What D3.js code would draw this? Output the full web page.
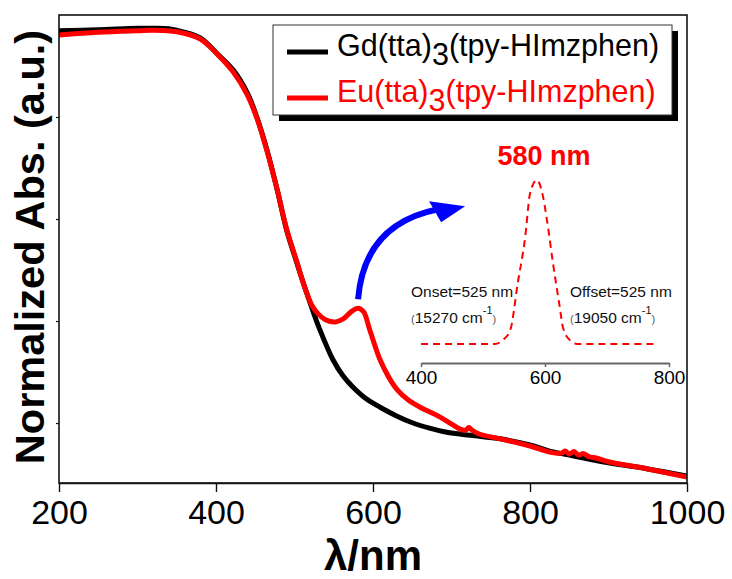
<!DOCTYPE html>
<html>
<head>
<meta charset="utf-8">
<script src="https://cdn.jsdelivr.net/npm/d3@7"></script>
<style>
  body { margin: 0; background: #fff; }
  svg { display: block; font-family: Arial, "Liberation Sans", sans-serif; }
</style>
</head>
<body>
<svg width="732" height="579"></svg>
<script>
// wavelengths (nm) and normalized absorbance
var gdWave = [200, 250, 300, 320, 340, 358, 380, 401, 422, 440, 452, 465, 478, 490, 503, 512, 522, 532, 549, 562, 574, 590, 609, 630, 651, 672, 694, 724, 762, 800, 825, 850, 900, 950, 1000];
var gdAbs  = [0.969, 0.971, 0.974, 0.974, 0.973, 0.967, 0.955, 0.925, 0.892, 0.847, 0.800, 0.735, 0.657, 0.578, 0.514, 0.471, 0.426, 0.384, 0.324, 0.292, 0.271, 0.249, 0.231, 0.214, 0.200, 0.190, 0.182, 0.176, 0.169, 0.157, 0.145, 0.137, 0.122, 0.110, 0.096];

var euWave = [200, 250, 300, 320, 350, 380, 401, 422, 440, 452, 465, 478, 490, 503, 510, 516, 522, 529, 540, 552, 562, 572, 581, 588, 596, 609, 620, 631, 645, 660, 685, 700, 711, 718, 722, 727, 736, 762, 800, 825, 840, 845, 850, 856, 862, 868, 875, 885, 900, 950, 1000];
var euAbs  = [0.961, 0.966, 0.969, 0.970, 0.967, 0.953, 0.924, 0.888, 0.843, 0.798, 0.733, 0.657, 0.580, 0.516, 0.480, 0.453, 0.431, 0.416, 0.402, 0.398, 0.404, 0.418, 0.425, 0.418, 0.382, 0.324, 0.290, 0.265, 0.245, 0.231, 0.212, 0.198, 0.188, 0.186, 0.191, 0.185, 0.178, 0.169, 0.155, 0.143, 0.141, 0.145, 0.139, 0.144, 0.137, 0.140, 0.134, 0.131, 0.124, 0.110, 0.094];

// inset: the 580 nm band
var bandWave = [400, 519, 532, 544, 556, 568, 576, 587, 595, 603, 613, 624, 629, 640, 652, 777];
var bandAbs  = [0, 0, 0.024, 0.085, 0.37, 0.65, 0.92, 1, 0.93, 0.76, 0.49, 0.22, 0.10, 0.024, 0, 0];

var xTicks = [200, 400, 600, 800, 1000];
var yTicks = [0.2, 0.4, 0.6, 0.8];
var insetTicks = [400, 600, 800];
var seriesNames = ["Gd(tta)", "Eu(tta)"];

(function() {
  var svg = d3.select("svg");

  var pLeft = 59, pRight = 687, pTop = 15, pBottom = 483;

  var x = d3.scaleLinear().domain([200, 1000]).range([pLeft, pRight]);
  var y = d3.scaleLinear().domain([0.0824, 1]).range([pBottom, pTop]);

  svg.append("defs").append("clipPath").attr("id", "plot")
    .append("rect").attr("x", pLeft).attr("y", pTop)
    .attr("width", pRight - pLeft).attr("height", pBottom - pTop);

  var line = d3.line()
    .x(function(d) { return x(d[0]); })
    .y(function(d) { return y(d[1]); })
    .curve(d3.curveCatmullRom.alpha(0.5));

  var curves = svg.append("g").attr("clip-path", "url(#plot)");

  curves.append("path")
    .datum(d3.zip(gdWave, gdAbs))
    .attr("d", line)
    .attr("fill", "none").attr("stroke", "#000").attr("stroke-width", 5)
    .attr("stroke-linejoin", "round");

  curves.append("path")
    .datum(d3.zip(euWave, euAbs))
    .attr("d", line)
    .attr("fill", "none").attr("stroke", "#ff0000").attr("stroke-width", 5)
    .attr("stroke-linejoin", "round");

  // frame
  svg.append("rect")
    .attr("x", pLeft).attr("y", pTop)
    .attr("width", pRight - pLeft).attr("height", pBottom - pTop)
    .attr("fill", "none").attr("stroke", "#111").attr("stroke-width", 1.6);

  // x axis
  var xAxis = svg.append("g")
    .attr("transform", "translate(0," + pBottom + ")")
    .call(d3.axisBottom(x).tickValues(xTicks).tickFormat(d3.format("d"))
      .tickSize(9).tickSizeOuter(0).tickPadding(8));
  xAxis.select(".domain").attr("stroke", "#111").attr("stroke-width", 1.6);
  xAxis.selectAll(".tick line").attr("stroke", "#111").attr("stroke-width", 1.4);
  xAxis.selectAll(".tick text")
    .attr("font-family", "Arial, 'Liberation Sans', sans-serif")
    .attr("font-size", 34).attr("fill", "#000")
    .attr("dy", "0.71em");

  // y axis (ticks only)
  var yAxis = svg.append("g")
    .attr("transform", "translate(" + pLeft + ",0)")
    .call(d3.axisLeft(y).tickValues(yTicks).tickSize(3).tickSizeOuter(0).tickFormat(""));
  yAxis.select(".domain").remove();
  yAxis.selectAll(".tick line").attr("stroke", "#111").attr("stroke-width", 1.2);

  // axis titles
  svg.append("text")
    .attr("x", 373).attr("y", 570)
    .attr("text-anchor", "middle")
    .attr("font-size", 42).attr("font-weight", "bold")
    .text("λ/nm");

  svg.append("text")
    .attr("transform", "translate(44,247) rotate(-90)")
    .attr("text-anchor", "middle")
    .attr("font-size", 41.5).attr("font-weight", "bold")
    .text("Normalized Abs. (a.u.)");

  // legend
  var legend = svg.append("g");
  legend.append("rect")
    .attr("x", 279).attr("y", 31).attr("width", 399).attr("height", 90)
    .attr("fill", "#000");
  legend.append("rect")
    .attr("x", 273).attr("y", 25).attr("width", 399).attr("height", 90)
    .attr("fill", "#fff").attr("stroke", "#333").attr("stroke-width", 1);

  var legendColors = ["#000", "#ff0000"];
  seriesNames.forEach(function(name, i) {
    var ly = 52 + i * 46;
    legend.append("line")
      .attr("x1", 287).attr("x2", 328).attr("y1", ly).attr("y2", ly)
      .attr("stroke", legendColors[i]).attr("stroke-width", 5);
    var t = legend.append("text")
      .attr("x", 337).attr("y", ly + 4)
      .attr("font-size", 30.5).attr("fill", legendColors[i]);
    t.append("tspan").text(name);
    t.append("tspan").attr("dy", 9).text("3");
    t.append("tspan").attr("dy", -9).text("(tpy-HImzphen)");
  });

  // arrow from the 580 nm band toward the inset
  var ax0 = x(581), ay0 = y(0.425) - 9;
  svg.append("path")
    .attr("d", "M" + ax0 + "," + ay0 + " C" + (ax0 + 4) + "," + (ay0 - 50) + " " + (ax0 + 30) + "," + (ay0 - 80) + " " + (ax0 + 80) + "," + (ay0 - 90))
    .attr("fill", "none").attr("stroke", "#0000ff").attr("stroke-width", 6);
  svg.append("path")
    .attr("d", "M" + (ax0 + 107) + "," + (ay0 - 93) + " L" + (ax0 + 71) + "," + (ay0 - 98) + " L" + (ax0 + 83) + "," + (ay0 - 77) + " Z")
    .attr("fill", "#0000ff");

  // inset
  var xi = d3.scaleLinear().domain([400, 800]).range([421, 669]);
  var yi = d3.scaleLinear().domain([0, 1]).range([344, 180]);

  var inset = svg.append("g");
  var insetAxis = inset.append("g")
    .attr("transform", "translate(0,363)")
    .call(d3.axisBottom(xi).tickValues(insetTicks).tickSize(4).tickSizeOuter(0).tickPadding(4));
  insetAxis.select(".domain").attr("stroke", "#666").attr("stroke-width", 2);
  insetAxis.selectAll(".tick line").attr("stroke", "#666").attr("stroke-width", 1.5);
  insetAxis.selectAll(".tick text")
    .attr("font-family", "Arial, 'Liberation Sans', sans-serif")
    .attr("font-size", 19).attr("fill", "#000").attr("dy", "0.71em");

  inset.append("path")
    .datum(d3.zip(bandWave, bandAbs))
    .attr("d", d3.line()
      .x(function(d) { return xi(d[0]); })
      .y(function(d) { return yi(d[1]); })
      .curve(d3.curveMonotoneX))
    .attr("fill", "none").attr("stroke", "#ff0000").attr("stroke-width", 2)
    .attr("stroke-dasharray", "7,5");

  inset.append("text")
    .attr("x", 544).attr("y", 165).attr("text-anchor", "middle")
    .attr("font-size", 27).attr("font-weight", "bold").attr("fill", "#ff0000")
    .text("580 nm");

  function note(tx, label, wn) {
    inset.append("text").attr("x", tx).attr("y", 297)
      .attr("font-size", 15.5).attr("fill", "#111").text(label);
    var t = inset.append("text").attr("x", tx).attr("y", 323)
      .attr("font-size", 15.5).attr("fill", "#111");
    t.append("tspan").attr("font-size", 11).attr("fill", "#555").text("(");
    t.append("tspan").text(wn + " cm");
    t.append("tspan").attr("font-size", 11).attr("dy", -9).text("-1");
    t.append("tspan").attr("font-size", 11).attr("dy", 9).attr("fill", "#555").text(")");
  }
  note(411, "Onset=525 nm", "15270");
  note(570, "Offset=525 nm", "19050");
})();
</script>
</body>
</html>
